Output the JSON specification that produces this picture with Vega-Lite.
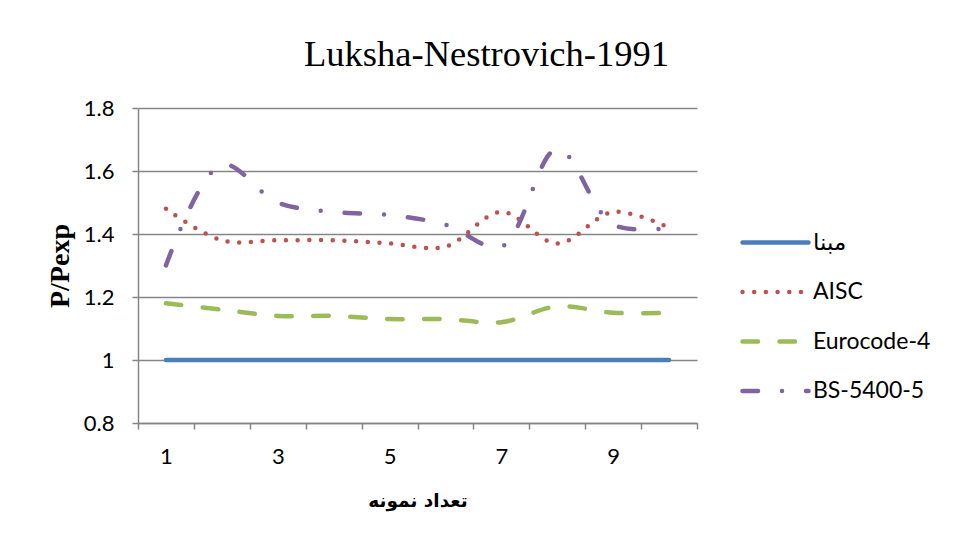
{
  "$schema": "https://vega.github.io/schema/vega-lite/v6.json",
  "width": 559,
  "height": 315,
  "autosize": {"type": "none"},
  "padding": {"left": 138, "top": 108, "right": 259, "bottom": 125},
  "background": "white",
  "title": {
    "text": "Luksha-Nestrovich-1991",
    "font": "Liberation Serif",
    "fontSize": 36.5,
    "fontWeight": "normal",
    "color": "black",
    "anchor": "middle",
    "dx": 69,
    "offset": 24
  },
  "data": {
    "values": [
      {"n": 1, "series": "مبنا", "value": 1.0},
      {"n": 2, "series": "مبنا", "value": 1.0},
      {"n": 3, "series": "مبنا", "value": 1.0},
      {"n": 4, "series": "مبنا", "value": 1.0},
      {"n": 5, "series": "مبنا", "value": 1.0},
      {"n": 6, "series": "مبنا", "value": 1.0},
      {"n": 7, "series": "مبنا", "value": 1.0},
      {"n": 8, "series": "مبنا", "value": 1.0},
      {"n": 9, "series": "مبنا", "value": 1.0},
      {"n": 10, "series": "مبنا", "value": 1.0},
      {"n": 1, "series": "AISC", "value": 1.48},
      {"n": 2, "series": "AISC", "value": 1.38},
      {"n": 3, "series": "AISC", "value": 1.38},
      {"n": 4, "series": "AISC", "value": 1.38},
      {"n": 5, "series": "AISC", "value": 1.37},
      {"n": 6, "series": "AISC", "value": 1.36},
      {"n": 7, "series": "AISC", "value": 1.47},
      {"n": 8, "series": "AISC", "value": 1.37},
      {"n": 9, "series": "AISC", "value": 1.47},
      {"n": 10, "series": "AISC", "value": 1.42},
      {"n": 1, "series": "Eurocode-4", "value": 1.18},
      {"n": 2, "series": "Eurocode-4", "value": 1.16},
      {"n": 3, "series": "Eurocode-4", "value": 1.14},
      {"n": 4, "series": "Eurocode-4", "value": 1.14},
      {"n": 5, "series": "Eurocode-4", "value": 1.13},
      {"n": 6, "series": "Eurocode-4", "value": 1.13},
      {"n": 7, "series": "Eurocode-4", "value": 1.12},
      {"n": 8, "series": "Eurocode-4", "value": 1.17},
      {"n": 9, "series": "Eurocode-4", "value": 1.15},
      {"n": 10, "series": "Eurocode-4", "value": 1.15},
      {"n": 1, "series": "BS-5400-5", "value": 1.30},
      {"n": 2, "series": "BS-5400-5", "value": 1.62},
      {"n": 3, "series": "BS-5400-5", "value": 1.50},
      {"n": 4, "series": "BS-5400-5", "value": 1.47},
      {"n": 5, "series": "BS-5400-5", "value": 1.46},
      {"n": 6, "series": "BS-5400-5", "value": 1.43},
      {"n": 7, "series": "BS-5400-5", "value": 1.36},
      {"n": 8, "series": "BS-5400-5", "value": 1.67},
      {"n": 9, "series": "BS-5400-5", "value": 1.43},
      {"n": 10, "series": "BS-5400-5", "value": 1.42}
    ]
  },
  "mark": {"type": "line", "interpolate": "catmull-rom", "strokeWidth": 4.5, "strokeCap": "round", "strokeJoin": "round"},
  "encoding": {
    "x": {
      "field": "n",
      "type": "ordinal",
      "scale": {"type": "band", "paddingInner": 0, "paddingOuter": 0},
      "axis": {
        "title": "تعداد نمونه",
        "titleFont": "DejaVu Sans",
        "titleFontSize": 18.5,
        "titleFontWeight": "bold",
        "titleColor": "black",
        "titlePadding": 24,
        "tickBand": "extent",
        "labelExpr": "datum.value % 2 == 1 ? datum.label : ''",
        "labelAngle": 0,
        "labelFont": "Lato",
        "labelFontSize": 22,
        "labelColor": "black",
        "labelPadding": 17,
        "tickSize": 6,
        "tickColor": "#868686",
        "tickWidth": 1.5,
        "domainColor": "#868686",
        "domainWidth": 1.5,
        "grid": false
      }
    },
    "y": {
      "field": "value",
      "type": "quantitative",
      "scale": {"domain": [0.8, 1.8], "nice": false, "zero": false},
      "axis": {
        "title": "P/Pexp",
        "titleFont": "Liberation Serif",
        "titleFontSize": 28,
        "titleFontWeight": "bold",
        "titleColor": "black",
        "titlePadding": 9,
        "values": [0.8, 1.0, 1.2, 1.4, 1.6, 1.8],
        "format": "~g",
        "labelFont": "Lato",
        "labelFontSize": 22,
        "labelColor": "black",
        "labelPadding": 18,
        "tickSize": 6,
        "tickColor": "#868686",
        "tickWidth": 1.5,
        "domainColor": "#868686",
        "domainWidth": 1.5,
        "grid": true,
        "gridColor": "#868686",
        "gridWidth": 1.5
      }
    },
    "color": {
      "field": "series",
      "type": "nominal",
      "sort": null,
      "scale": {
        "domain": ["مبنا", "AISC", "Eurocode-4", "BS-5400-5"],
        "range": ["#4A7EBB", "#C0504D", "#9BBB59", "#8064A2"]
      },
      "legend": {
        "title": null,
        "orient": "none",
        "legendX": 625,
        "legendY": 122,
        "symbolType": "M-3.3,0H3.3",
        "symbolSize": 400,
        "symbolStrokeWidth": 4.5,
        "labelFont": "Lato, DejaVu Sans",
        "labelFontSize": 23,
        "labelColor": "black",
        "labelOffset": 25,
        "rowPadding": 24.5,
        "encode": {"symbols": {"update": {"strokeCap": {"value": "round"}}}}
      }
    },
    "strokeDash": {
      "field": "series",
      "type": "nominal",
      "sort": null,
      "scale": {
        "domain": ["مبنا", "AISC", "Eurocode-4", "BS-5400-5"],
        "range": [[1, 0], [0, 11.7], [15.5, 21.5], [15.5, 24, 0, 24]]
      },
      "legend": {
        "title": null,
        "orient": "none",
        "legendX": 625,
        "legendY": 122,
        "symbolType": "M-3.3,0H3.3",
        "symbolSize": 400,
        "symbolStrokeWidth": 4.5,
        "labelFont": "Lato, DejaVu Sans",
        "labelFontSize": 23,
        "labelColor": "black",
        "labelOffset": 25,
        "rowPadding": 24.5,
        "encode": {"symbols": {"update": {"strokeCap": {"value": "round"}}}}
      }
    }
  },
  "config": {"view": {"stroke": null}}
}
